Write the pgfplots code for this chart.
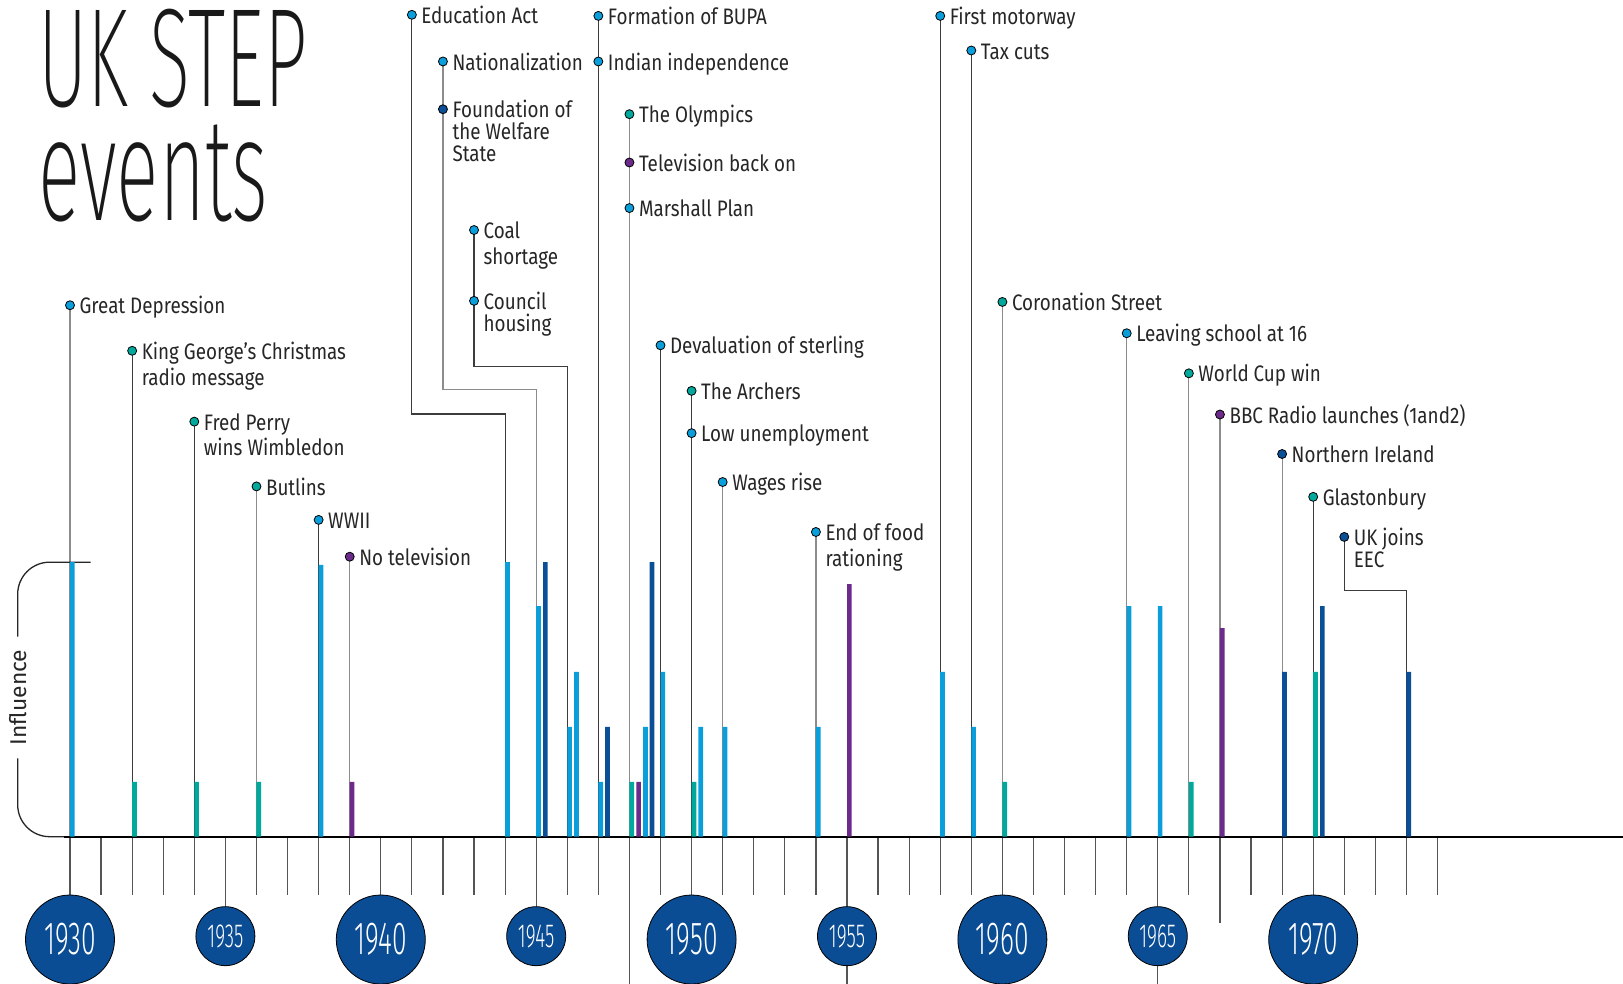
\documentclass[border=0pt]{standalone}
\usepackage{fontspec}
\usepackage{graphicx}
\usepackage{pgfplots}
\pgfplotsset{compat=1.18}

\IfFontExistsTF{Fira Sans ExtraLight}{\newfontfamily\thinfont{Fira Sans ExtraLight}}
 {\IfFontExistsTF{Fira Sans Light}{\newfontfamily\thinfont{Fira Sans Light}}
  {\IfFontExistsTF{Lato Light}{\newfontfamily\thinfont{Lato Light}}
   {\IfFontExistsTF{Open Sans Light}{\newfontfamily\thinfont{Open Sans Light}}
    {\newfontfamily\thinfont{Fira Sans}}}}}
\IfFontExistsTF{Fira Sans Light}{\newfontfamily\yearfont[FakeStretch=0.57]{Fira Sans Light}}
 {\IfFontExistsTF{Lato Light}{\newfontfamily\yearfont[FakeStretch=0.6]{Lato Light}}
  {\newfontfamily\yearfont[FakeStretch=0.57]{Fira Sans}}}
\newfontfamily\labelfont[FakeStretch=0.84]{Fira Sans}
\newfontfamily\plainfont{Fira Sans}

\definecolor{lb}{HTML}{0A9EDB}
\definecolor{db}{HTML}{0B4F97}
\definecolor{tl}{HTML}{00A99C}
\definecolor{pu}{HTML}{6C2A8B}
\definecolor{circ}{HTML}{0B4D94}
\definecolor{txt}{HTML}{262626}
\definecolor{lnd}{HTML}{3C3C3C}
\definecolor{lng}{HTML}{8C8C8C}
\definecolor{tck}{HTML}{555555}

\tikzset{lbl/.style={anchor=base west, inner sep=0pt, xshift=4.6pt, yshift=-4.3pt,
  text=txt, font=\labelfont\fontsize{11.2}{13}\selectfont}}

% bars: x = year (left edge of bar), y = influence
\pgfplotstableread{
x y
1930 5
1938 4.95
1944 5
1945 4.2
1946 2
1946.22 3
1947 1
1948.44 2
1949 3
1950.22 2
1951 2
1954 2
1958 3
1959 2
1964 4.2
1965 4.2
}\barsLB
\pgfplotstableread{
x y
1945.22 5
1947.22 2
1948.65 5
1969 3
1970.22 4.2
1973 3
}\barsDB
\pgfplotstableread{
x y
1932 1
1934 1
1936 1
1948 1
1950 1
1960 1
1966 1
1970 3
}\barsTL
\pgfplotstableread{
x y
1939 1
1948.22 1
1955 4.6
1967 3.8
}\barsPU

% label dots
\pgfplotstableread{
x y
1930 9.68
1938 5.77
1941 14.97
1942 14.12
1943 11.05
1943 9.76
1947 14.95
1947 14.12
1948 11.45
1949 8.95
1950 7.35
1951 6.46
1954 5.55
1958 14.95
1959 14.32
1964 9.17
}\dotsLB
\pgfplotstableread{
x y
1932 8.85
1934 7.56
1936 6.38
1948 13.16
1950 8.12
1960 9.74
1966 8.44
1970 6.19
}\dotsTL
\pgfplotstableread{
x y
1939 5.10
1948 12.28
1967 7.69
}\dotsPU
\pgfplotstableread{
x y
1942 13.25
1969 6.97
1971 5.46
}\dotsDB

\begin{document}
\begin{tikzpicture}
\begin{axis}[
  scale only axis, width=811.5pt, height=492pt,
  xmin=1927.748, xmax=1979.968, ymin=-2.683, ymax=15.240,
  hide axis, clip=false]

% ticks below the time line
\addplot[draw=tck, line width=0.6pt, mark=none, unbounded coords=jump] table {
x y
1930 0
1930 -1.062
nan nan
1931 0
1931 -1.062
nan nan
1932 0
1932 -1.062
nan nan
1933 0
1933 -1.062
nan nan
1934 0
1934 -1.062
nan nan
1935 0
1935 -1.275
nan nan
1936 0
1936 -1.062
nan nan
1937 0
1937 -1.062
nan nan
1938 0
1938 -1.062
nan nan
1939 0
1939 -1.062
nan nan
1940 0
1940 -1.062
nan nan
1941 0
1941 -1.062
nan nan
1942 0
1942 -1.062
nan nan
1943 0
1943 -1.062
nan nan
1944 0
1944 -1.062
nan nan
1945 0
1945 -1.275
nan nan
1946 0
1946 -1.062
nan nan
1947 0
1947 -1.062
nan nan
1948 0
1948 -2.683
nan nan
1949 0
1949 -1.062
nan nan
1950 0
1950 -1.062
nan nan
1951 0
1951 -1.062
nan nan
1952 0
1952 -1.062
nan nan
1953 0
1953 -1.062
nan nan
1954 0
1954 -1.062
nan nan
1955 0
1955 -2.683
nan nan
1956 0
1956 -1.062
nan nan
1957 0
1957 -1.062
nan nan
1958 0
1958 -1.062
nan nan
1959 0
1959 -1.062
nan nan
1960 0
1960 -1.062
nan nan
1961 0
1961 -1.062
nan nan
1962 0
1962 -1.062
nan nan
1963 0
1963 -1.062
nan nan
1964 0
1964 -1.062
nan nan
1965 0
1965 -2.683
nan nan
1966 0
1966 -1.062
nan nan
1967 0
1967 -1.573
nan nan
1968 0
1968 -1.062
nan nan
1969 0
1969 -1.062
nan nan
1970 0
1970 -1.062
nan nan
1971 0
1971 -1.062
nan nan
1972 0
1972 -1.062
nan nan
1973 0
1973 -1.062
nan nan
1974 0
1974 -1.062
};

% leader lines (dark)
\addplot[draw=lnd, line width=0.6pt, mark=none, unbounded coords=jump] table {
x y
1932 8.85
1932 0
nan nan
1934 7.56
1934 0
nan nan
1938 5.77
1938 0
nan nan
1941 14.97
1941 7.70
1944 7.70
1944 0
nan nan
1943 11.05
1943 8.57
1946 8.57
1946 0
nan nan
1947 14.95
1947 0
nan nan
1949 8.95
1949 0
nan nan
1950 8.12
1950 0
nan nan
1958 14.95
1958 0
nan nan
1959 14.32
1959 0
nan nan
1970 6.19
1970 0
nan nan
1971 5.46
1971 4.49
1973 4.49
1973 0
};
% leader lines (grey)
\addplot[draw=lng, line width=0.6pt, mark=none, unbounded coords=jump] table {
x y
1930 9.68
1930 0
nan nan
1936 6.38
1936 0
nan nan
1939 5.10
1939 0
nan nan
1942 14.12
1942 8.15
1945 8.15
1945 0
nan nan
1948 13.16
1948 0
nan nan
1951 6.46
1951 0
nan nan
1954 5.55
1954 0
nan nan
1960 9.74
1960 0
nan nan
1964 9.17
1964 0
nan nan
1966 8.44
1966 0
nan nan
1967 7.69
1967 0
nan nan
1969 6.97
1969 0
};

% Influence bracket
\addplot[draw=txt, line width=0.65pt, mark=none, rounded corners=16pt] coordinates {(1930.666,5) (1928.317,5) (1928.317,3.643)};
\addplot[draw=txt, line width=0.65pt, mark=none, rounded corners=16pt] coordinates {(1928.317,1.428) (1928.317,0) (1930,0)};
% time line
\addplot[draw=black, line width=0.85pt, mark=none] coordinates {(1929.8,0) (1979.968,0)};

% bars
\addplot[ybar, bar width=0.15, bar shift=0.075, fill=lb, draw=none] table {\barsLB};
\addplot[ybar, bar width=0.15, bar shift=0.075, fill=db, draw=none] table {\barsDB};
\addplot[ybar, bar width=0.15, bar shift=0.075, fill=tl, draw=none] table {\barsTL};
\addplot[ybar, bar width=0.15, bar shift=0.075, fill=pu, draw=none] table {\barsPU};

% dots
\addplot[only marks, mark=*, mark size=2.25pt, mark options={fill=lb, draw=none}] table {\dotsLB};
\addplot[only marks, mark=*, mark size=2.25pt, mark options={fill=tl, draw=none}] table {\dotsTL};
\addplot[only marks, mark=*, mark size=2.25pt, mark options={fill=pu, draw=none}] table {\dotsPU};
\addplot[only marks, mark=*, mark size=2.25pt, mark options={fill=db, draw=none}] table {\dotsDB};

% year circles
\addplot[only marks, mark=*, mark size=22.25pt, mark options={fill=circ, draw=none},
  nodes near coords, point meta=explicit symbolic,
  every node near coord/.style={anchor=center, inner sep=0pt, text=white,
    font=\yearfont\fontsize{23.2}{24}\selectfont}]
  table[meta=lab] {
x y lab
1930 -1.873 1930
1940 -1.873 1940
1950 -1.873 1950
1960 -1.873 1960
1970 -1.873 1970
};
\addplot[only marks, mark=*, mark size=14.75pt, mark options={fill=circ, draw=none},
  nodes near coords, point meta=explicit symbolic,
  every node near coord/.style={anchor=center, inner sep=0pt, text=white,
    font=\yearfont\fontsize{16.7}{17}\selectfont}]
  table[meta=lab] {
x y lab
1935 -1.812 1935
1945 -1.812 1945
1955 -1.812 1955
1965 -1.812 1965
};

% labels
\node[lbl] at (axis cs:1930,9.68) {Great Depression};
\node[lbl] at (axis cs:1932,8.85) {King George’s Christmas};
\node[lbl] at (axis cs:1932,8.376) {radio message};
\node[lbl] at (axis cs:1934,7.56) {Fred Perry};
\node[lbl] at (axis cs:1934,7.092) {wins Wimbledon};
\node[lbl] at (axis cs:1936,6.38) {Butlins};
\node[lbl] at (axis cs:1938,5.77) {WWII};
\node[lbl] at (axis cs:1939,5.10) {No television};
\node[lbl] at (axis cs:1941,14.97) {Education Act};
\node[lbl] at (axis cs:1942,14.12) {Nationalization};
\node[lbl] at (axis cs:1942,13.25) {Foundation of};
\node[lbl] at (axis cs:1942,12.85) {the Welfare};
\node[lbl] at (axis cs:1942,12.45) {State};
\node[lbl] at (axis cs:1943,11.05) {Coal};
\node[lbl] at (axis cs:1943,10.582) {shortage};
\node[lbl] at (axis cs:1943,9.76) {Council};
\node[lbl] at (axis cs:1943,9.354) {housing};
\node[lbl] at (axis cs:1947,14.95) {Formation of BUPA};
\node[lbl] at (axis cs:1947,14.12) {Indian independence};
\node[lbl] at (axis cs:1948,13.16) {The Olympics};
\node[lbl] at (axis cs:1948,12.28) {Television back on};
\node[lbl] at (axis cs:1948,11.45) {Marshall Plan};
\node[lbl] at (axis cs:1949,8.95) {Devaluation of sterling};
\node[lbl] at (axis cs:1950,8.12) {The Archers};
\node[lbl] at (axis cs:1950,7.35) {Low unemployment};
\node[lbl] at (axis cs:1951,6.46) {Wages rise};
\node[lbl] at (axis cs:1954,5.55) {End of food};
\node[lbl] at (axis cs:1954,5.076) {rationing};
\node[lbl] at (axis cs:1958,14.95) {First motorway};
\node[lbl] at (axis cs:1959,14.32) {Tax cuts};
\node[lbl] at (axis cs:1960,9.74) {Coronation Street};
\node[lbl] at (axis cs:1964,9.17) {Leaving school at 16};
\node[lbl] at (axis cs:1966,8.44) {World Cup win};
\node[lbl] at (axis cs:1967,7.69) {BBC Radio launches (1and2)};
\node[lbl] at (axis cs:1969,6.97) {Northern Ireland};
\node[lbl] at (axis cs:1970,6.19) {Glastonbury};
\node[lbl] at (axis cs:1971,5.46) {UK joins};
\node[lbl] at (axis cs:1971,5.054) {EEC};

% axis label
\node[rotate=90, inner sep=0pt, text=txt, font=\plainfont\fontsize{11.4}{12}\selectfont]
  at (axis cs:1928.317,2.535) {Influence};

% title
\node[anchor=base west, inner sep=0pt, text=black!90] at (axis cs:1928.97,13.30)
  {\resizebox{134.5pt}{48.7pt}{\thinfont UK STEP}};
\node[anchor=base west, inner sep=0pt, text=black!90] at (axis cs:1928.97,11.22)
  {\resizebox{115pt}{47.85pt}{\thinfont events}};

\coordinate (SW) at (axis cs:1927.748,-2.683);
\coordinate (NE) at (axis cs:1979.968,15.240);
\end{axis}
\pgfresetboundingbox
\path[use as bounding box] (SW) rectangle (NE);
\end{tikzpicture}
\end{document}
